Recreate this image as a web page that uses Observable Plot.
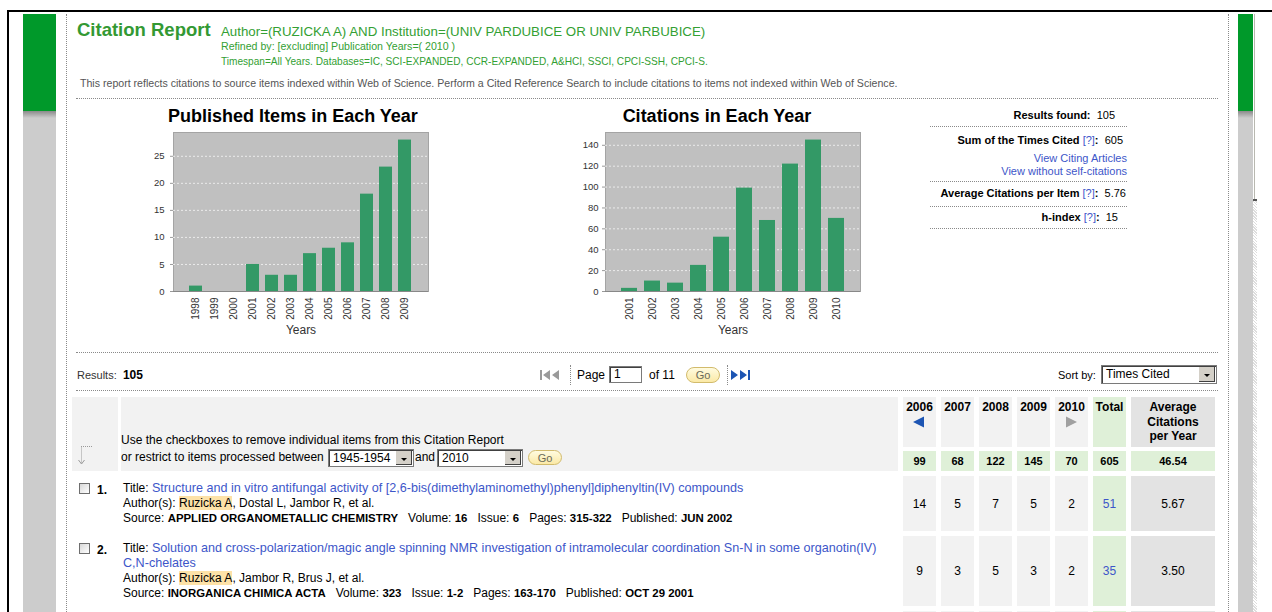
<!DOCTYPE html>
<html><head><meta charset="utf-8">
<script src="https://cdn.jsdelivr.net/npm/d3@7"></script>
<script src="https://cdn.jsdelivr.net/npm/@observablehq/plot@0.6"></script>
<style>
html,body{margin:0;padding:0;background:#fff;}
body{width:1272px;height:612px;overflow:hidden;position:relative;font-family:"Liberation Sans",Arial,Helvetica,sans-serif;color:#000;}
.a{position:absolute;white-space:nowrap;}
.lk{color:#3d56c9;}
.cell{display:flex;align-items:center;justify-content:center;text-align:center;font-size:12px;}
.hd{align-items:flex-start;font-weight:bold;font-size:12px;line-height:14.5px;padding-top:3px;box-sizing:border-box;}
.sep{position:absolute;border-top:1px dotted #8a8a8a;height:0;}
.vsep{position:absolute;border-left:1px dotted #8a8a8a;width:0;}
.hl{background:#fde2a8;}
.sel{position:absolute;background:#fff;border:1px solid #7a7a7a;box-shadow:inset 1px 1px 0 #404040;box-sizing:border-box;font-size:12px;}
.sel .t{position:absolute;left:4px;top:1px;line-height:15px;}
.sel .b{position:absolute;right:1px;top:1px;bottom:1px;width:16px;background:#d4d0c8;border-left:1px solid #fff;box-shadow:inset -1px -1px 0 #404040;}
.sel .b:after{content:"";position:absolute;left:5px;top:7px;border-left:3px solid transparent;border-right:3px solid transparent;border-top:3px solid #000;}
.go{position:absolute;border:1px solid #d2bb6c;border-radius:9px;background:linear-gradient(#fffbe0,#fbe9a6);font-size:11px;color:#6a6a5a;text-align:center;box-sizing:border-box;line-height:14px;}
.src b{font-size:11.4px;}
</style></head><body>
<script>
// ---------------- data ----------------
const pubYears = ["1998","1999","2000","2001","2002","2003","2004","2005","2006","2007","2008","2009"];
const pubCounts = [1,0,0,5,3,3,7,8,9,18,23,28];
const pubTicks = [0,5,10,15,20,25];

const citeYears = ["2001","2002","2003","2004","2005","2006","2007","2008","2009","2010"];
const citeCounts = [3,10,8,25,52,99,68,122,145,70];
const citeTicks = [0,20,40,60,80,100,120,140];

const resultsFound = 105;
const sumTimesCited = 605;
const avgPerItem = "5.76";
const hIndex = 15;

const tableYears = ["2006","2007","2008","2009","2010"];
const yearTotals = [99,68,122,145,70];
const grandTotal = 605;
const grandAvg = "46.54";

// titles as they wrap in the report
const itemTitleLines = [
  ["Structure and in vitro antifungal activity of [2,6-bis(dimethylaminomethyl)phenyl]diphenyltin(IV) compounds"],
  ["Solution and cross-polarization/magic angle spinning NMR investigation of intramolecular coordination Sn-N in some organotin(IV)", "C,N-chelates"]
];
const itemAuthorHit = ["Ruzicka A","Ruzicka A"];
const itemAuthorRest = [", Dostal L, Jambor R, et al.", ", Jambor R, Brus J, et al."];
const itemJournals = ["APPLIED ORGANOMETALLIC CHEMISTRY","INORGANICA CHIMICA ACTA"];
const itemVolumes = ["16","323"];
const itemIssues = ["6","1-2"];
const itemPages = ["315-322","163-170"];
const itemPublished = ["JUN 2002","OCT 29 2001"];
const itemCites = [[14,5,7,5,2],[9,3,5,3,2]];
const itemTotals = [51,35];
const itemAvgs = ["5.67","3.50"];

// ---------------- page ----------------
const FONT = '"Liberation Sans", Arial, Helvetica, sans-serif';
let h = "";
const add = s => { h += s; };
const txt = (x, y, size, content, style = "") =>
  add(`<div class="a" style="left:${x}px;top:${y}px;font-size:${size}px;line-height:${size}px;${style}">${content}</div>`);
const rtxt = (xr, y, size, content, style = "") =>
  add(`<div class="a" style="left:${xr-400}px;width:400px;text-align:right;top:${y}px;font-size:${size}px;line-height:${size}px;${style}">${content}</div>`);

// outer frame decorations
add(`<div class="a" style="left:7px;top:10px;width:1265px;height:2px;background:#000"></div>`);
add(`<div class="a" style="left:7px;top:10px;width:2px;height:602px;background:#000"></div>`);
add(`<div class="a" style="left:23px;top:14px;width:33px;height:97px;background:#00992a"></div>`);
add(`<div class="a" style="left:23px;top:111px;width:33px;height:501px;background:linear-gradient(#8a8a8a 0px,#cccccc 7px,#cccccc 100%)"></div>`);
add(`<div class="a" style="left:1238px;top:14px;width:15px;height:97px;background:#00992a"></div>`);
add(`<div class="a" style="left:1238px;top:111px;width:15px;height:501px;background:linear-gradient(#8a8a8a 0px,#cccccc 7px,#cccccc 100%)"></div>`);
add(`<div class="a" style="left:1254px;top:14px;width:1px;height:186px;background:#b8b8b0"></div>`);
add(`<div class="a" style="left:1253px;top:199px;width:4px;height:2px;background:#555"></div>`);
add(`<div class="a" style="left:1253px;top:201px;width:4px;height:411px;background:repeating-linear-gradient(45deg,#ddd 0 1px,#fff 1px 2px)"></div>`);
add(`<div class="vsep" style="left:66px;top:14px;height:598px"></div>`);
add(`<div class="vsep" style="left:1228px;top:14px;height:598px"></div>`);

// header
txt(77, 21, 18.5, "Citation Report", "font-weight:bold;color:#339933");
txt(221, 25, 13.3, "Author=(RUZICKA A) AND Institution=(UNIV PARDUBICE OR UNIV PARBUBICE)", "color:#33a033");
txt(221, 41, 10.6, "Refined by: [excluding] Publication Years=( 2010 )", "color:#33a033");
txt(221, 57, 10.1, "Timespan=All Years. Databases=IC, SCI-EXPANDED, CCR-EXPANDED, A&amp;HCI, SSCI, CPCI-SSH, CPCI-S.", "color:#33a033");
txt(80, 78, 10.6, "This report reflects citations to source items indexed within Web of Science. Perform a Cited Reference Search to include citations to items not indexed within Web of Science.", "color:#555");
add(`<div class="sep" style="left:76px;top:98px;width:1142px"></div>`);

// chart titles
add(`<div class="a" style="left:93px;width:400px;text-align:center;top:107px;font-size:18px;line-height:18px;font-weight:bold">Published Items in Each Year</div>`);
add(`<div class="a" style="left:517px;width:400px;text-align:center;top:107px;font-size:18px;line-height:18px;font-weight:bold">Citations in Each Year</div>`);
add(`<div id="c1" class="a" style="left:133px;top:127px"></div>`);
add(`<div id="c2" class="a" style="left:565px;top:127px"></div>`);

// stats panel
rtxt(1115, 110, 11, `<b>Results found:</b>&nbsp; ${resultsFound}`);
add(`<div class="sep" style="left:930px;top:126px;width:197px"></div>`);
rtxt(1123, 135, 11, `<b>Sum of the Times Cited</b> <span class="lk">[?]</span><b>:</b>&nbsp; ${sumTimesCited}`);
rtxt(1127, 153, 11, `<span class="lk">View Citing Articles</span>`);
rtxt(1127, 166, 11, `<span class="lk">View without self-citations</span>`);
add(`<div class="sep" style="left:930px;top:181px;width:197px"></div>`);
rtxt(1126, 188, 11, `<b>Average Citations per Item</b> <span class="lk">[?]</span><b>:</b>&nbsp; ${avgPerItem}`);
add(`<div class="sep" style="left:930px;top:206px;width:197px"></div>`);
rtxt(1118, 212, 11, `<b>h-index</b> <span class="lk">[?]</span><b>:</b>&nbsp; ${hIndex}`);
add(`<div class="sep" style="left:930px;top:228px;width:197px"></div>`);

// results bar
add(`<div class="sep" style="left:76px;top:352px;width:1142px"></div>`);
txt(77, 370, 11, `<span style="color:#333">Results:</span>&nbsp; <b style="font-size:12px">${resultsFound}</b>`);
add(`<svg class="a" style="left:540px;top:369px" width="26" height="12"><g fill="#9a9a9a"><rect x="0" y="1" width="2" height="10"/><path d="M10 1L3 6L10 11Z M19 1L12 6L19 11Z"/></g></svg>`);
add(`<div class="vsep" style="left:570px;top:365px;height:20px"></div>`);
txt(577, 369, 12, "Page");
add(`<div class="a" style="left:609px;top:366px;width:33px;height:17px;border:1px solid #7a7a7a;box-shadow:inset 1px 1px 0 #404040;box-sizing:border-box;background:#fff;font-size:12px;line-height:15px;padding-left:4px">1</div>`);
txt(649, 369, 12, "of 11");
add(`<div class="go" style="left:686px;top:367px;width:34px;height:16px">Go</div>`);
add(`<div class="vsep" style="left:727px;top:365px;height:20px"></div>`);
add(`<svg class="a" style="left:731px;top:369px" width="27" height="12"><g fill="#1d55b3"><path d="M0 1L7 6L0 11Z M9 1L16 6L9 11Z"/><rect x="17" y="1" width="2" height="10"/></g></svg>`);
txt(1058, 370, 11, "Sort by:");
add(`<div class="sel" style="left:1101px;top:365px;width:116px;height:19px"><span class="t">Times Cited</span><span class="b"></span></div>`);
add(`<div class="sep" style="left:76px;top:390px;width:1142px"></div>`);

// table header (left)
add(`<div class="a" style="left:72px;top:397px;width:46px;height:74px;background:#f2f2f2"></div>`);
add(`<div class="a" style="left:121px;top:397px;width:777px;height:74px;background:#f2f2f2"></div>`);
add(`<svg class="a" style="left:76px;top:442px" width="20" height="26"><g stroke="#9a9a9a" fill="none" stroke-dasharray="1,1"><path d="M5 4.5H17M5.5 4.5V21"/></g><path d="M2.5 18L5.5 22L8.5 18" stroke="#9a9a9a" fill="none"/></svg>`);
add(`<div class="a" style="left:121px;top:433px;font-size:12px;line-height:15px">Use the checkboxes to remove individual items from this Citation Report</div>`);
add(`<div class="a" style="left:121px;top:450px;font-size:12px;line-height:15px">or restrict to items processed between</div>`);
add(`<div class="sel" style="left:328px;top:449px;width:86px;height:18px"><span class="t">1945-1954</span><span class="b"></span></div>`);
add(`<div class="a" style="left:415px;top:450px;font-size:12px;line-height:15px">and</div>`);
add(`<div class="sel" style="left:437px;top:449px;width:86px;height:18px"><span class="t">2010</span><span class="b"></span></div>`);
add(`<div class="go" style="left:528px;top:450px;width:34px;height:15px">Go</div>`);

// table header (right)
const colX = [903, 941, 979, 1017, 1055], colW = 33, totX = 1093, totW = 33, avgX = 1131, avgW = 84;
const cell = (x, y, w, hh, bg, content, cls = "", style = "") =>
  add(`<div class="a cell ${cls}" style="left:${x}px;top:${y}px;width:${w}px;height:${hh}px;background:${bg};${style}">${content}</div>`);
tableYears.forEach((yr, i) => {
  let extra = "";
  if (i === 0) extra = `<br><svg width="12" height="12" style="margin-top:1px"><path d="M0 6L11 0.5L11 11.5Z" fill="#1d55b3"/></svg>`;
  if (i === tableYears.length - 1) extra = `<br><svg width="12" height="12" style="margin-top:1px"><path d="M1 0.5L12 6L1 11.5Z" fill="#a0a0a0"/></svg>`;
  cell(colX[i], 397, colW, 50, "#f2f2f2", `<div>${yr}${extra}</div>`, "hd");
  cell(colX[i], 451, colW, 20, "#dff0d8", `<b style="font-size:11px">${yearTotals[i]}</b>`);
});
cell(totX, 397, totW, 50, "#dff0d8", "Total", "hd");
cell(totX, 451, totW, 20, "#dff0d8", `<b style="font-size:11px">${grandTotal}</b>`);
cell(avgX, 397, avgW, 50, "#e3e3e3", "Average<br>Citations<br>per Year", "hd");
cell(avgX, 451, avgW, 20, "#dff0d8", `<b style="font-size:11px">${grandAvg}</b>`);

// rows
const rowTop = [476, 536], rowH = [55, 70];
itemTitleLines.forEach((lines, r) => {
  const y = rowTop[r];
  add(`<div class="a" style="left:79px;top:${y+7}px;width:11px;height:11px;box-sizing:border-box;border:1px solid #6e6e6e;background:linear-gradient(135deg,#d8d8d8,#fff)"></div>`);
  add(`<div class="a" style="left:97px;top:${y+7}px;font-size:12px;line-height:15px;font-weight:bold">${r+1}.</div>`);
  const titleHtml = lines.map((ln, k) =>
    `<div>${k === 0 ? "Title: " : ""}<span class="lk" style="font-size:12.6px">${ln}</span></div>`).join("");
  add(`<div class="a" style="left:123px;top:${y+5}px;font-size:12px;line-height:15px">
    ${titleHtml}
    <div>Author(s): <span class="hl">${itemAuthorHit[r]}</span>${itemAuthorRest[r]}</div>
    <div class="src">Source: <b>${itemJournals[r]}</b>&nbsp;&nbsp; Volume: <b>${itemVolumes[r]}</b>&nbsp;&nbsp; Issue: <b>${itemIssues[r]}</b>&nbsp;&nbsp; Pages: <b>${itemPages[r]}</b>&nbsp;&nbsp; Published: <b>${itemPublished[r]}</b></div>
  </div>`);
  itemCites[r].forEach((v, i) => cell(colX[i], y, colW, rowH[r], "#f2f2f2", v));
  cell(totX, y, totW, rowH[r], "#dff0d8", `<span class="lk">${itemTotals[r]}</span>`);
  cell(avgX, y, avgW, rowH[r], "#e3e3e3", itemAvgs[r]);
});
// top of next row (cut off by window)
colX.forEach(x => cell(x, 611, colW, 20, "#f2f2f2", ""));
cell(totX, 611, totW, 20, "#dff0d8", "");
cell(avgX, 611, avgW, 20, "#e3e3e3", "");

document.body.insertAdjacentHTML("beforeend", h);

// ---------------- charts ----------------
function barChart(years, counts, ticks, tickPad) {
  const data = years.map((year, i) => ({year, count: counts[i]}));
  const yMax = d3.max(counts) * 1.05;
  return Plot.plot({
    width: 307, height: 213,
    marginLeft: 40, marginRight: 12, marginTop: 5, marginBottom: 49,
    style: {background: "transparent", fontFamily: FONT, color: "#333", overflow: "visible"},
    x: {domain: years, paddingInner: 0.3, paddingOuter: 0.6},
    y: {domain: [0, yMax]},
    marks: [
      Plot.frame({fill: "#c0c0c0", stroke: "#a4a4a4"}),
      Plot.gridY(ticks.filter(t => t > 0), {stroke: "#f0f0f0", strokeOpacity: 0.9, strokeDasharray: "2,2"}),
      Plot.barY(data, {x: "year", y: "count", fill: "#339966"}),
      Plot.ruleY([0], {stroke: "#888"}),
      Plot.axisY(ticks, {tickSize: 3, tickPadding: tickPad, fontSize: 9.5, stroke: "#999", label: null}),
      Plot.axisX({tickRotate: -90, tickSize: 0, tickPadding: 6, fontSize: 10, label: null}),
      Plot.text(["Years"], {frameAnchor: "bottom", dy: 42, fontSize: 12, fill: "#333"})
    ]
  });
}
document.getElementById("c1").append(barChart(pubYears, pubCounts, pubTicks, 6));
document.getElementById("c2").append(barChart(citeYears, citeCounts, citeTicks, 4));
</script>
</body></html>
